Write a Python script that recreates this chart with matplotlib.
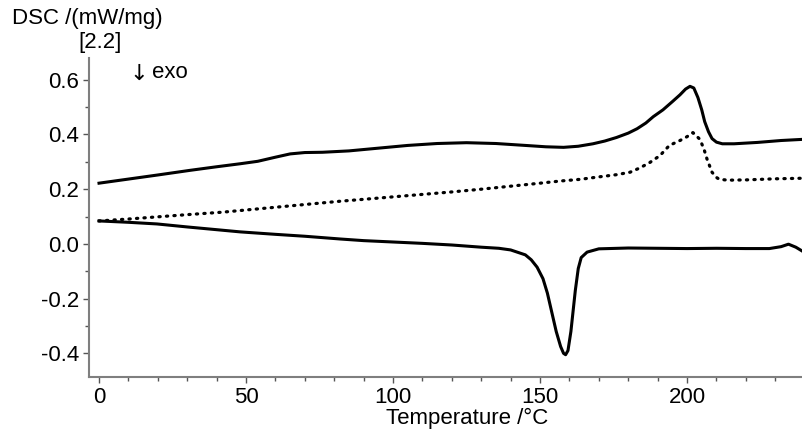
import numpy as np
import matplotlib
matplotlib.use('Agg')
import matplotlib.pyplot as plt
from matplotlib.ticker import MultipleLocator

plt.rcParams['font.family'] = ['Liberation Sans', 'DejaVu Sans']

# Lower curve (solid, with endothermic dip)
t_low = [0, 10, 19.7, 30, 40, 48, 60, 70, 82, 90, 100, 110, 120, 130, 136, 140, 145, 147,
         149, 151, 152.5, 154, 155.5, 157, 158, 158.7, 159.5, 160.5, 161.2, 162, 163, 164,
         166, 170, 180, 190, 200, 210, 220, 228, 232, 234.5, 237, 239]
y_low = [0.084, 0.079, 0.073, 0.062, 0.052, 0.044, 0.035, 0.028, 0.018, 0.012, 0.007,
         0.002, -0.004, -0.012, -0.016, -0.022, -0.04, -0.058, -0.085, -0.127, -0.18,
         -0.25, -0.32, -0.375, -0.4, -0.405, -0.39, -0.32, -0.25, -0.17, -0.09, -0.05,
         -0.03, -0.018, -0.015, -0.016, -0.017, -0.016, -0.017, -0.017, -0.010, -0.001,
         -0.012, -0.025]

# Upper curve (solid)
t_up = [0, 10, 20, 31, 40, 48, 54, 60, 65, 70, 76, 85, 95, 105, 115, 125, 135, 145, 152,
        158, 163, 168, 172, 176, 180, 183, 186, 188.5, 191.8, 195, 197.6, 199.5, 201,
        202.3, 203.7, 205, 206, 207.3, 208.5, 210, 212, 216, 224, 232, 239]
y_up = [0.222, 0.237, 0.252, 0.269, 0.282, 0.293, 0.302, 0.317, 0.329, 0.334, 0.335,
        0.34, 0.35, 0.36, 0.367, 0.37, 0.367, 0.36, 0.355, 0.353, 0.357, 0.366, 0.376,
        0.389, 0.405, 0.421, 0.442, 0.465, 0.49, 0.52, 0.545, 0.566, 0.576, 0.57, 0.535,
        0.49, 0.447, 0.41, 0.385, 0.372, 0.366, 0.366, 0.371, 0.378, 0.382]

# Middle curve (dotted)
t_dot = [0, 10, 20, 30, 42, 50, 60, 70, 82, 90, 100, 110, 120, 130, 140, 150, 157, 163.6,
         170, 176, 180.6, 184, 187.4, 190.8, 194, 197.6, 200, 202, 204.4, 205.8, 206.8,
         208.5, 210, 211, 214, 220, 230, 239]
y_dot = [0.084, 0.091, 0.099, 0.107, 0.116, 0.124, 0.134, 0.144, 0.156, 0.163, 0.172,
         0.181, 0.19, 0.2, 0.211, 0.222, 0.23, 0.236, 0.245, 0.253, 0.262, 0.278, 0.298,
         0.323, 0.36, 0.378, 0.392, 0.407, 0.382, 0.345, 0.31, 0.262, 0.243, 0.236, 0.233,
         0.234, 0.238, 0.24]

fig = plt.figure(figsize=(8.02, 4.32), dpi=100)
ax = fig.add_axes([0.111, 0.127, 0.889, 0.739])

ax.plot(t_up, y_up, color='black', lw=2.2, solid_joinstyle='round')
ax.plot(t_dot, y_dot, color='black', lw=2.3, linestyle=(0, (0.4, 1.95)),
        dash_capstyle='round')
ax.plot(t_low, y_low, color='black', lw=2.2, solid_joinstyle='round')

ax.set_xlim(-3.4, 239.1)
ax.set_ylim(-0.487, 0.68)

ax.xaxis.set_major_locator(MultipleLocator(50))
ax.xaxis.set_minor_locator(MultipleLocator(10))
ax.yaxis.set_minor_locator(MultipleLocator(0.1))
ax.set_yticks([-0.4, -0.2, 0.0, 0.2, 0.4, 0.6])
ax.set_yticklabels(['-0.4', '-0.2', '0.0', '0.2', '0.4', '0.6'])

for s in ['top', 'right']:
    ax.spines[s].set_visible(False)
for s in ['left', 'bottom']:
    ax.spines[s].set_color('#7f7f7f')
    ax.spines[s].set_linewidth(1.5)

ax.tick_params(which='major', direction='out', length=4, width=1, color='#555555',
               labelsize=16, pad=3)
ax.tick_params(which='minor', direction='out', length=3, width=1, color='#555555')

ax.set_xlabel('Temperature /°C', fontsize=16)
ax.xaxis.set_label_coords(0.53, -0.095)

fig.text(0.015, 0.958, 'DSC /(mW/mg)', fontsize=16, ha='left', va='center')
fig.text(0.125, 0.902, '[2.2]', fontsize=16, ha='center', va='center')
fig.text(0.1735, 0.830, '↓', fontsize=16, ha='center', va='center', family='DejaVu Sans')
fig.text(0.190, 0.833, 'exo', fontsize=16, ha='left', va='center')

fig.savefig('out.png', dpi=100)
